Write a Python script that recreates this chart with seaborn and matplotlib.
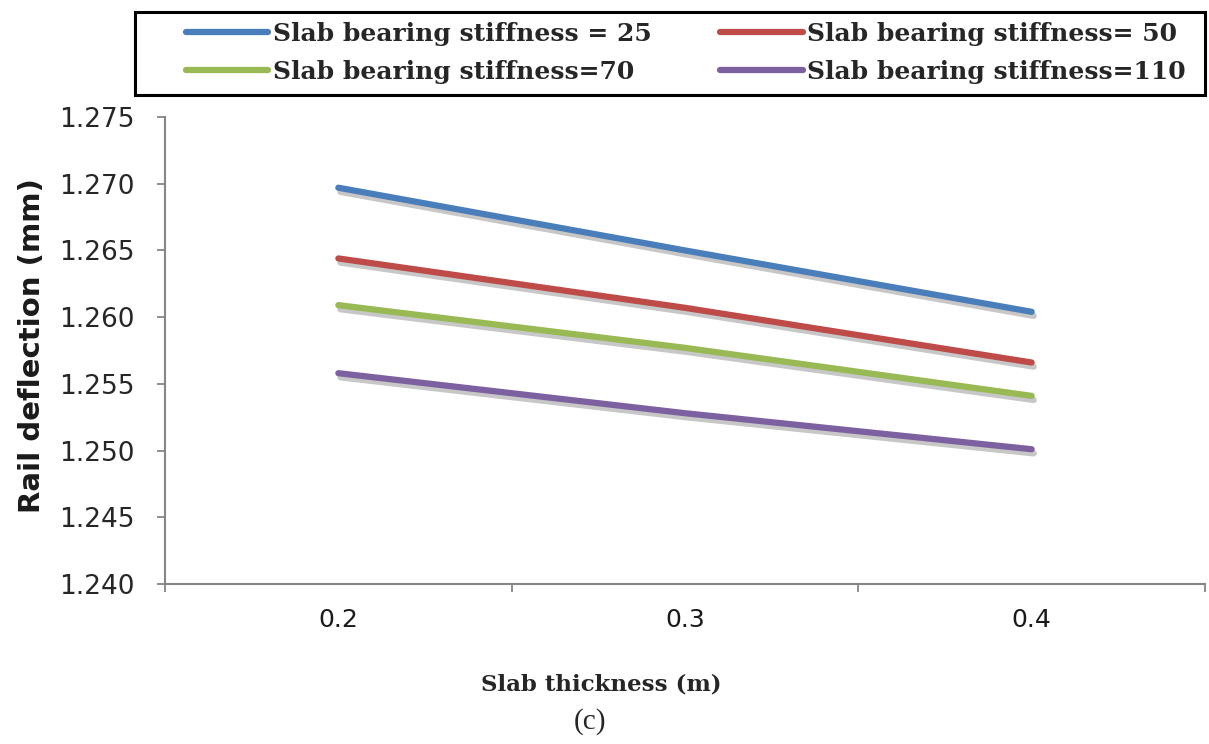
import numpy as np
import pandas as pd
import seaborn as sns
import matplotlib
matplotlib.use("Agg")
import matplotlib.pyplot as plt
import matplotlib.patheffects as pe
from matplotlib.patches import Rectangle
from matplotlib.ticker import FixedLocator, NullFormatter

# Slab thickness categories (m)
thickness = ["0.2", "0.3", "0.4"]

# Rail deflection (mm) for each slab bearing stiffness
stiff_25 = [1.2697, 1.2650, 1.2604]
stiff_50 = [1.2644, 1.2607, 1.2566]
stiff_70 = [1.2609, 1.2577, 1.2541]
stiff_110 = [1.2558, 1.2528, 1.2501]

series_names = [
    "Slab bearing stiffness = 25",
    "Slab bearing stiffness= 50",
    "Slab bearing stiffness=70",
    "Slab bearing stiffness=110",
]
colors = ["#4A7EBB", "#BE4B48", "#98B954", "#7D60A0"]

yticks = [1.240, 1.245, 1.250, 1.255, 1.260, 1.265, 1.270, 1.275]

rows = []
for name, vals in zip(series_names, [stiff_25, stiff_50, stiff_70, stiff_110]):
    for t, v in zip(thickness, vals):
        rows.append({"Slab thickness (m)": t, "Rail deflection (mm)": v, "series": name})
df = pd.DataFrame(rows)

sns.set_style("white")
W, H = 1209, 744
fig = plt.figure(figsize=(W / 100, H / 100), dpi=100)
ax = fig.add_axes([165 / W, 1 - 584 / H, (1205 - 165) / W, (584 - 117) / H])

sns.lineplot(
    data=df, x="Slab thickness (m)", y="Rail deflection (mm)", hue="series",
    hue_order=series_names, palette=colors, linewidth=4.5, sort=False,
    ax=ax, legend=False,
)
for line in ax.lines:
    line.set_solid_capstyle("round")
    line.set_path_effects([
        pe.SimpleLineShadow(offset=(1.5, -3), shadow_color="black", alpha=0.22),
        pe.Normal(),
    ])

# Axes range and ticks
ax.set_xlim(-0.5, 2.5)
ax.set_ylim(1.240, 1.275)
ax.set_yticks(yticks)
ax.set_yticklabels([f"{v:.3f}" for v in yticks],
                   fontsize=19, color="#262626", family="DejaVu Sans")
ax.xaxis.set_major_locator(FixedLocator([-0.5, 0.5, 1.5, 2.5]))
ax.xaxis.set_major_formatter(NullFormatter())
ax.set_xticks([0, 1, 2], minor=True)
ax.set_xticklabels(thickness, minor=True, fontsize=18, family="DejaVu Sans", color="#1a1a1a")
ax.tick_params(axis="x", which="minor", bottom=True, length=0, pad=17)
ax.tick_params(axis="x", which="major", bottom=True, direction="out", length=6,
               width=1.3, color="#868686")
ax.tick_params(axis="y", left=True, direction="out", length=6, width=1.3,
               color="#868686", pad=16)

for side in ["top", "right"]:
    ax.spines[side].set_visible(False)
for side in ["left", "bottom"]:
    ax.spines[side].set_color("#868686")
    ax.spines[side].set_linewidth(1.5)

ax.set_xlabel("")
ax.set_ylabel("Rail deflection (mm)", fontsize=21, fontweight="bold",
              family="DejaVu Sans", color="#1a1a1a")
ax.yaxis.set_label_coords((46 - 165) / 1040, (584 - 346) / 467)

fig.text(601 / W, 1 - 684 / H, "Slab thickness (m)", ha="center", va="center",
         fontsize=16.5, fontweight="bold", family="DejaVu Serif")
fig.text(590 / W, 1 - 722 / H, "(c)", ha="center", va="center",
         fontsize=21, family="Liberation Serif")

# Legend across the top, in a black box
order = [0, 2, 1, 3]
handles = [plt.Line2D([], [], color=colors[i], linewidth=4.5, solid_capstyle="round")
           for i in order]
labels = [series_names[i] for i in order]
leg = fig.legend(
    handles, labels, loc="center", ncol=2,
    bbox_to_anchor=(686 / W, 1 - 53 / H), bbox_transform=fig.transFigure,
    frameon=False,
    prop={"family": "DejaVu Serif", "weight": "bold", "size": 18},
    handlelength=3.3, handletextpad=0.18, labelspacing=0.55,
    columnspacing=2.75, borderpad=0, borderaxespad=0,
)
fig.patches.append(Rectangle((135 / W, 1 - 95 / H), 1070 / W, 83 / H,
                             transform=fig.transFigure, fill=False,
                             edgecolor="black", linewidth=2.2))

fig.savefig("out.png", dpi=100)
